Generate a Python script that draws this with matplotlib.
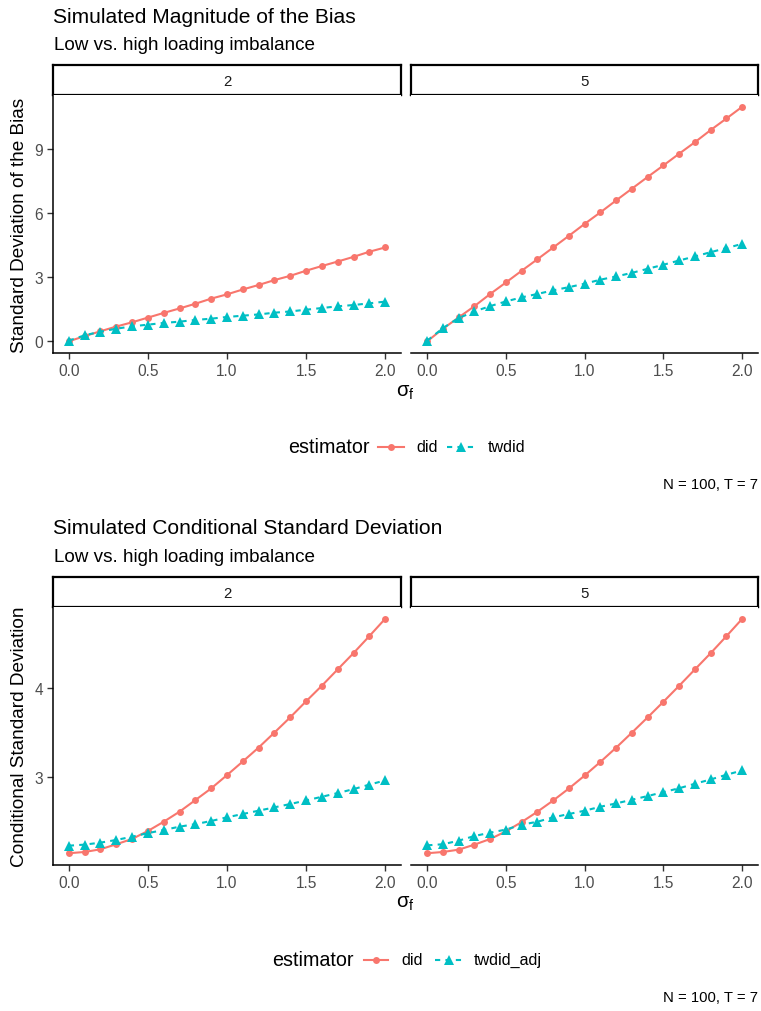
import numpy as np
import matplotlib
matplotlib.use("Agg")
import matplotlib.pyplot as plt

plt.rcParams['font.family'] = ['Liberation Sans', 'DejaVu Sans']
plt.rcParams['mathtext.fontset'] = 'custom'
plt.rcParams['mathtext.rm'] = 'Liberation Sans'
plt.rcParams['mathtext.it'] = 'Liberation Sans'

# ---- data -------------------------------------------------------------
sigma_f = [0.0, 0.1, 0.2, 0.3, 0.4, 0.5, 0.6, 0.7, 0.8, 0.9, 1.0,
           1.1, 1.2, 1.3, 1.4, 1.5, 1.6, 1.7, 1.8, 1.9, 2.0]
facets = ["2", "5"]

# standard deviation of the bias
bias_did_2 = [0.00, 0.24, 0.47, 0.69, 0.89, 1.11, 1.33, 1.54, 1.76, 2.00, 2.20,
              2.43, 2.64, 2.87, 3.07, 3.31, 3.53, 3.74, 3.96, 4.20, 4.40]
bias_twdid_2 = [0.03, 0.28, 0.45, 0.59, 0.70, 0.78, 0.86, 0.92, 1.00, 1.06, 1.14,
                1.20, 1.26, 1.34, 1.40, 1.48, 1.56, 1.64, 1.70, 1.78, 1.86]
bias_did_5 = [0.00, 0.59, 1.12, 1.65, 2.22, 2.76, 3.31, 3.85, 4.40, 4.95, 5.51,
              6.05, 6.61, 7.16, 7.71, 8.25, 8.80, 9.34, 9.91, 10.45, 11.00]
bias_twdid_5 = [0.03, 0.62, 1.09, 1.40, 1.65, 1.87, 2.06, 2.22, 2.39, 2.54, 2.70,
                2.89, 3.04, 3.21, 3.40, 3.59, 3.79, 3.98, 4.18, 4.37, 4.57]

# conditional standard deviation
csd_did_2 = [2.156, 2.170, 2.200, 2.256, 2.315, 2.404, 2.507, 2.619, 2.748, 2.878, 3.026,
             3.178, 3.333, 3.500, 3.670, 3.848, 4.022, 4.204, 4.385, 4.574, 4.767]
csd_twdid_adj_2 = [2.240, 2.252, 2.274, 2.304, 2.340, 2.380, 2.415, 2.452, 2.480, 2.515, 2.556,
                   2.593, 2.630, 2.667, 2.704, 2.744, 2.785, 2.826, 2.870, 2.920, 2.967]
csd_did_5 = [2.156, 2.170, 2.196, 2.252, 2.315, 2.400, 2.504, 2.619, 2.744, 2.878, 3.022,
             3.174, 3.333, 3.500, 3.670, 3.844, 4.022, 4.204, 4.385, 4.574, 4.767]
csd_twdid_adj_5 = [2.244, 2.256, 2.296, 2.348, 2.385, 2.420, 2.474, 2.507, 2.556, 2.593, 2.630,
                   2.674, 2.711, 2.752, 2.793, 2.837, 2.880, 2.930, 2.978, 3.030, 3.078]

x_ticks = [0.0, 0.5, 1.0, 1.5, 2.0]
x_ticklabels = ["0.0", "0.5", "1.0", "1.5", "2.0"]
bias_yticks = [0, 3, 6, 9]
csd_yticks = [3, 4]

# ---- styling ----------------------------------------------------------
W, H = 761, 1012
RED = "#F8766D"
TEAL = "#00BFC4"
TICK_COL = "#4D4D4D"
TICK_LINE = "#333333"
DASH = (0, (2.5, 2.5))
LW = 1.5
MS_DOT, MS_TRI = 5.0, 6.6

fig = plt.figure(figsize=(W / 100, H / 100), dpi=100)

# overlay in pixel units (y downwards) for titles, legend and captions
ov = fig.add_axes([0, 0, 1, 1], zorder=-1)
ov.set_xlim(0, W)
ov.set_ylim(H, 0)
ov.axis("off")


def px_axes(l, t, r, b):
    return fig.add_axes([l / W, 1 - b / H, (r - l) / W, (b - t) / H])


def draw_strip(l, t, r, b, label):
    s = px_axes(l, t, r, b)
    s.set_xticks([])
    s.set_yticks([])
    for sp in s.spines.values():
        sp.set_linewidth(1.6)
        sp.set_color("black")
    s.text(0.5, 0.48, label, ha="center", va="center", fontsize=10.8,
           color="#1A1A1A", transform=s.transAxes)


def draw_panel(l, t, r, b, y_a, y_b, ylim, yticks, first):
    ax = px_axes(l, t, r, b)
    ax.plot(sigma_f, y_a, color=RED, lw=LW, marker="o", ms=MS_DOT,
            markeredgewidth=0, zorder=3)
    ax.plot(sigma_f, y_b, color=TEAL, lw=LW, ls=DASH, marker="^",
            ms=MS_TRI, markeredgewidth=0, zorder=4)
    ax.set_xlim(-0.1, 2.1)
    ax.set_ylim(*ylim)
    ax.set_xticks(x_ticks)
    ax.set_xticklabels(x_ticklabels)
    ax.set_yticks(yticks)
    ax.spines["top"].set_visible(False)
    ax.spines["right"].set_visible(False)
    ax.spines["bottom"].set_linewidth(1.1)
    ax.spines["left"].set_linewidth(1.1)
    ax.tick_params(axis="both", length=4, width=1.0, color=TICK_LINE,
                   labelcolor=TICK_COL, labelsize=11.2, pad=3)
    if not first:
        ax.spines["left"].set_visible(False)
        ax.tick_params(axis="y", left=False, labelleft=False)
    return ax


def block(top, title, subtitle, ylabel, series_2, series_5, ylim, yticks):
    ov.text(53, top + 17, title, fontsize=15.1, ha="left", va="center")
    ov.text(54, top + 45, subtitle, fontsize=13.6, ha="left", va="center")
    strip_t, strip_b = top + 66, top + 96
    pan_b = top + 354
    cols = [(53, 401), (411.5, 758)]
    for i, (l, r) in enumerate(cols):
        draw_strip(l, strip_t, r, strip_b, facets[i])
        ya, yb = (series_2, series_5)[i]
        draw_panel(l, strip_b, r, pan_b, ya, yb, ylim, yticks, i == 0)
    ov.text(20, (strip_b + pan_b) / 2, ylabel, rotation=90, fontsize=13.7,
            ha="center", va="center")
    ov.text(405.5, pan_b + 38, r"$\sigma_\mathrm{f}$", fontsize=14.5,
            ha="center", va="center")


def legend_row(y, x_title, key1, txt1, key2, txt2, labels):
    ov.text(x_title, y, "estimator", fontsize=14.2, ha="left", va="center")
    ov.plot(key1, [y, y], color=RED, lw=LW)
    ov.plot([sum(key1) / 2], [y], color=RED, marker="o", ms=MS_DOT,
            markeredgewidth=0)
    ov.text(txt1, y, labels[0], fontsize=11.6, ha="left", va="center")
    ov.plot(key2, [y, y], color=TEAL, lw=LW, ls=DASH)
    ov.plot([sum(key2) / 2], [y], color=TEAL, marker="^", ms=MS_TRI,
            markeredgewidth=0)
    ov.text(txt2, y, labels[1], fontsize=11.6, ha="left", va="center")


# ---- top block: bias --------------------------------------------------
block(0, "Simulated Magnitude of the Bias", "Low vs. high loading imbalance",
      "Standard Deviation of the Bias",
      (bias_did_2, bias_twdid_2), (bias_did_5, bias_twdid_5),
      (-0.55, 11.55), bias_yticks)
legend_row(447.5, 288, (378, 404), 416, (447, 475), 488, ["did", "twdid"])
ov.text(758, 485, "N = 100, T = 7", fontsize=10.7, ha="right", va="center")

# ---- bottom block: conditional sd -------------------------------------
top2 = 512
block(top2, "Simulated Conditional Standard Deviation",
      "Low vs. high loading imbalance", "Conditional Standard Deviation",
      (csd_did_2, csd_twdid_adj_2), (csd_did_5, csd_twdid_adj_5),
      (2.025, 4.898), csd_yticks)
legend_row(960.5, 272.5, (364, 388), 401.5, (435, 462), 474,
           ["did", "twdid_adj"])
ov.text(758, 998, "N = 100, T = 7", fontsize=10.7, ha="right", va="center")

fig.savefig("out.png", dpi=100, facecolor="white")
